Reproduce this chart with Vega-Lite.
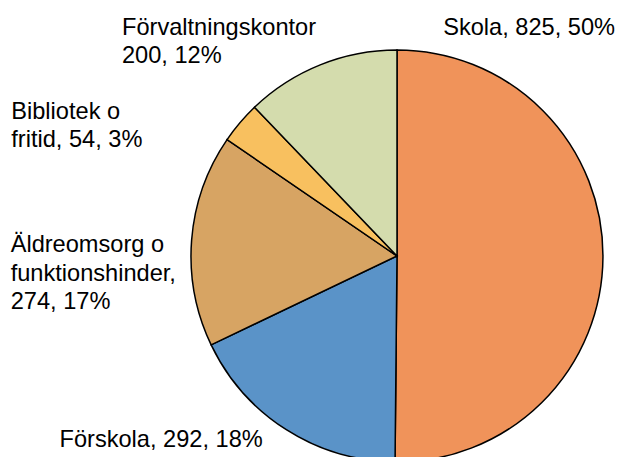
{
  "$schema": "https://vega.github.io/schema/vega-lite/v6.json",
  "width": 412,
  "height": 412,
  "autosize": "none",
  "padding": {"left": 191, "top": 50, "right": 16, "bottom": 0},
  "background": "white",
  "config": {"view": {"stroke": null}},
  "data": {
    "values": [
      {"idx": 1, "kategori": "Skola", "varde": 825, "andel": "50%", "rad": ["Skola, 825, 50%"]},
      {"idx": 2, "kategori": "Förskola", "varde": 292, "andel": "18%", "rad": ["Förskola, 292, 18%"]},
      {"idx": 3, "kategori": "Äldreomsorg o funktionshinder", "varde": 274, "andel": "17%", "rad": ["Äldreomsorg o", "funktionshinder,", "274, 17%"]},
      {"idx": 4, "kategori": "Bibliotek o fritid", "varde": 54, "andel": "3%", "rad": ["Bibliotek o", "fritid, 54, 3%"]},
      {"idx": 5, "kategori": "Förvaltningskontor", "varde": 200, "andel": "12%", "rad": ["Förvaltningskontor", "200, 12%"]}
    ]
  },
  "encoding": {
    "theta": {"field": "varde", "type": "quantitative", "stack": true},
    "order": {"field": "idx", "type": "quantitative"}
  },
  "layer": [
    {
      "mark": {"type": "arc", "outerRadius": 206, "stroke": "black", "strokeWidth": 1.5},
      "encoding": {
        "color": {
          "field": "kategori",
          "type": "nominal",
          "legend": null,
          "scale": {
            "domain": ["Skola", "Förskola", "Äldreomsorg o funktionshinder", "Bibliotek o fritid", "Förvaltningskontor"],
            "range": ["#F0935A", "#5A93C8", "#D7A463", "#F8C05F", "#D4DCAD"]
          }
        }
      }
    },
    {
      "mark": {"type": "text", "radius": 220, "align": "right", "baseline": "alphabetic", "dx": -2, "dy": -222, "font": "Liberation Sans", "fontSize": 23.6, "lineHeight": 28.5, "color": "black"},
      "encoding": {"text": {"condition": {"test": "datum.idx == 1", "field": "rad"}, "value": ""}}
    },
    {
      "mark": {"type": "text", "radius": 220, "align": "right", "baseline": "alphabetic", "dx": -16, "dy": 5, "font": "Liberation Sans", "fontSize": 23.6, "lineHeight": 28.5, "color": "black"},
      "encoding": {"text": {"condition": {"test": "datum.idx == 2", "field": "rad"}, "value": ""}}
    },
    {
      "mark": {"type": "text", "radius": 220, "align": "left", "baseline": "alphabetic", "dx": -167, "dy": 13, "font": "Liberation Sans", "fontSize": 23.6, "lineHeight": 28.5, "color": "black"},
      "encoding": {"text": {"condition": {"test": "datum.idx == 3", "field": "rad"}, "value": ""}}
    },
    {
      "mark": {"type": "text", "radius": 220, "align": "left", "baseline": "alphabetic", "dx": -218, "dy": 5, "font": "Liberation Sans", "fontSize": 23.6, "lineHeight": 28.5, "color": "black"},
      "encoding": {"text": {"condition": {"test": "datum.idx == 4", "field": "rad"}, "value": ""}}
    },
    {
      "mark": {"type": "text", "radius": 220, "align": "left", "baseline": "alphabetic", "dx": -193, "dy": -17, "font": "Liberation Sans", "fontSize": 23.6, "lineHeight": 28.5, "color": "black"},
      "encoding": {"text": {"condition": {"test": "datum.idx == 5", "field": "rad"}, "value": ""}}
    }
  ]
}
